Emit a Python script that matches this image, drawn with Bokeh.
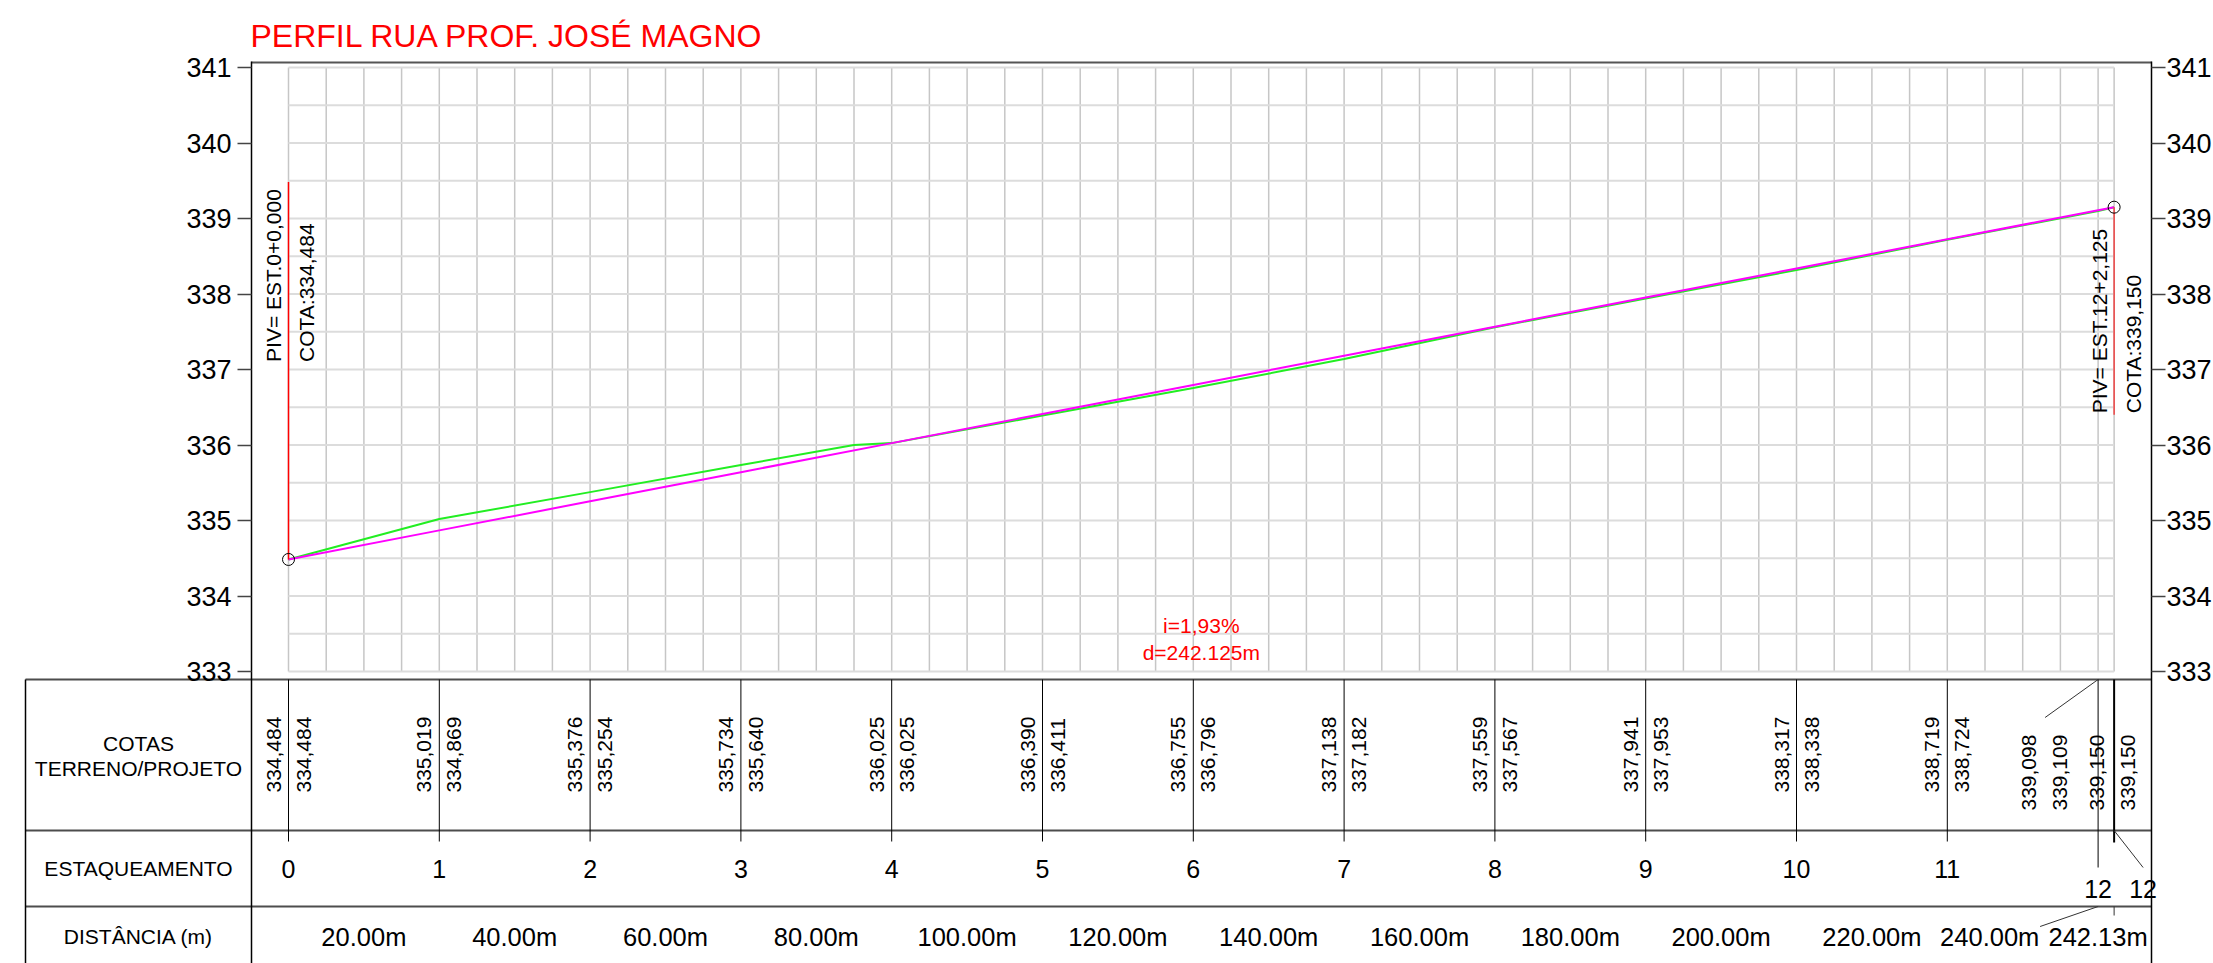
import numpy as np
from bokeh.plotting import figure
from bokeh.models import Range1d, LinearAxis, FixedTicker
from bokeh.embed import file_html
from bokeh.resources import INLINE
from bokeh.core.properties import value

# ---------------- data ----------------
TITLE = "PERFIL RUA PROF. JOSÉ MAGNO"
estacas = ["0", "1", "2", "3", "4", "5", "6", "7", "8", "9", "10", "11", "12", "12"]
dist_m = [0, 20, 40, 60, 80, 100, 120, 140, 160, 180, 200, 220, 240, 242.125]
cota_terreno = [334.484, 335.019, 335.376, 335.734, 336.025, 336.390, 336.755,
                337.138, 337.559, 337.941, 338.317, 338.719, 339.098, 339.150]
cota_projeto = [334.484, 334.869, 335.254, 335.640, 336.025, 336.411, 336.796,
                337.182, 337.567, 337.953, 338.338, 338.724, 339.109, 339.150]
# terrain profile as drawn (includes one intermediate surveyed point)
perfil_terreno_dist = [0, 20, 40, 60, 75, 80, 100, 120, 140, 160, 180, 200, 220, 240, 242.125]
perfil_terreno_cota = [334.484, 335.019, 335.376, 335.734, 336.000, 336.025, 336.390, 336.755,
                       337.138, 337.559, 337.941, 338.317, 338.719, 339.098, 339.150]
dist_labels = ["20.00m", "40.00m", "60.00m", "80.00m", "100.00m", "120.00m", "140.00m",
               "160.00m", "180.00m", "200.00m", "220.00m", "240.00m", "242.13m"]
y_ticks = [333, 334, 335, 336, 337, 338, 339, 340, 341]
piv_dist = [0, 242.125]
piv_cota = [334.484, 339.150]
piv_labels = ["PIV= EST.0+0,000", "PIV= EST.12+2,125"]
piv_cota_labels = ["COTA:334,484", "COTA:339,150"]
slope_labels = ["i=1,93%", "d=242.125m"]
row_titles = ["COTAS", "TERRENO/PROJETO", "ESTAQUEAMENTO", "DISTÂNCIA (m)"]

FONT = "Liberation Sans"
W, H = 2213, 963
TL = 25                         # table left edge (canvas px)
PL, PR, PT = 251, 2151, 61      # profile box: left axis, right axis, top line
X0 = 288                        # canvas x of distance 0
PXM = 7.54                      # px per metre, horizontal
Y341 = 67                       # canvas y of elevation 341
PYM = 75.5                      # px per metre, vertical
TABLE_TOP = 679


def xv(px):
    return (px - X0) / PXM


def yv(py):
    return y_ticks[-1] - (py - Y341) / PYM


def ty(off):
    return yv(TABLE_TOP + off)


def fmt(v):
    return f"{v:.3f}".replace(".", ",")


# the frame covers the whole canvas; the axes are pinned with fixed_location
p = figure(width=W, height=H,
           x_range=Range1d(xv(0), xv(W)),
           y_range=Range1d(yv(H), yv(0)),
           output_backend="svg", toolbar_location=None,
           x_axis_location=None, y_axis_location="left",
           min_border_left=0, min_border_right=0,
           min_border_top=0, min_border_bottom=0)
p.xgrid.visible = False
p.ygrid.visible = False
p.outline_line_color = None
p.background_fill_color = "white"
p.border_fill_color = "white"


def style_axis(ax, standoff, loc):
    ax.ticker = FixedTicker(ticks=y_ticks)
    ax.fixed_location = loc
    ax.bounds = (yv(H), yv(PT))
    ax.major_tick_out = 14
    ax.major_tick_in = 0
    ax.minor_tick_out = 0
    ax.minor_tick_in = 0
    ax.major_label_standoff = standoff
    ax.major_label_text_font = FONT
    ax.major_label_text_font_size = "27px"
    ax.major_label_text_color = "black"
    ax.axis_line_color = "black"
    ax.axis_line_width = 1.5
    ax.major_tick_line_color = "#444444"
    ax.major_tick_line_width = 1.5


style_axis(p.yaxis[0], 6, xv(PL))
ax_r = LinearAxis()
style_axis(ax_r, 1, xv(PR))
p.add_layout(ax_r, "right")

# title
p.text(x=[xv(250)], y=[yv(35.5)], text=[TITLE], text_align="left", text_baseline="middle",
       text_font=value(FONT), text_font_size="32px", text_color="red")

# top line of the profile box
p.segment(x0=xv(PL), y0=yv(PT + 1), x1=xv(PR), y1=yv(PT + 1), line_color="#555555", line_width=2)

# drawing grid (5 m x 0.5 m)
gx = list(np.arange(0, 241, 5)) + [dist_m[-1]]
p.segment(x0=gx, y0=y_ticks[0], x1=gx, y1=y_ticks[-1], line_color="#c6c6c6", line_width=1.5)
gy = list(np.arange(y_ticks[0], y_ticks[-1] + 0.01, 0.5))
p.segment(x0=0, y0=gy, x1=dist_m[-1], y1=gy, line_color="#dcdcdc", line_width=2)

# profiles
p.line(perfil_terreno_dist, perfil_terreno_cota, line_color="#22ee22", line_width=2)
p.line(dist_m, cota_projeto, line_color="#ff00ff", line_width=2)

# PIV markers
p.segment(x0=piv_dist, y0=piv_cota, x1=piv_dist,
          y1=[piv_cota[0] + 5.0, piv_cota[1] - 2.75], line_color=["#ff0000", "#ee4444"], line_width=1.5)
p.scatter(piv_dist, piv_cota, marker="circle", size=12, fill_color=None,
          line_color="black", line_width=1)
piv_text_y = [337.10, 336.42]
p.text(x=[piv_dist[0] - 15 / PXM, piv_dist[1] - 15 / PXM], y=piv_text_y, text=piv_labels,
       angle=np.pi / 2, text_align="left", text_baseline="middle",
       text_font=value(FONT), text_font_size="21px", text_color="black")
p.text(x=[piv_dist[0] + 18 / PXM, piv_dist[1] + 19 / PXM], y=piv_text_y, text=piv_cota_labels,
       angle=np.pi / 2, text_align="left", text_baseline="middle",
       text_font=value(FONT), text_font_size="21px", text_color="black")

# slope annotation
mid = dist_m[-1] / 2
p.text(x=[mid, mid], y=[333.61, 333.25], text=slope_labels,
       text_align="center", text_baseline="middle",
       text_font=value(FONT), text_font_size="21px", text_color="red")

# ---------------- table (below the profile) ----------------
row_lines = [0, 151, 227]
p.segment(x0=xv(TL), y0=[ty(o) for o in row_lines], x1=xv(PR), y1=[ty(o) for o in row_lines],
          line_color="#4d4d4d", line_width=2)
p.segment(x0=xv(TL), y0=ty(0), x1=xv(TL), y1=yv(H), line_color="black", line_width=1.5)
p.text(x=[xv(138)] * 4, y=[ty(64), ty(89), ty(189), ty(257)], text=row_titles,
       text_align="center", text_baseline="middle",
       text_font=value(FONT), text_font_size="21px", text_color="black")

# station ticks
p.segment(x0=dist_m[:12], y0=ty(0), x1=dist_m[:12], y1=ty(162), line_color="black", line_width=1)
p.segment(x0=dist_m[12], y0=ty(0), x1=dist_m[12], y1=ty(188), line_color="black", line_width=1)
p.segment(x0=dist_m[13], y0=ty(0), x1=dist_m[13], y1=ty(163), line_color="black", line_width=2)
# leaders
p.segment(x0=[dist_m[12], dist_m[13], dist_m[12], dist_m[13]],
          y0=[ty(0), ty(151), ty(227), ty(227)],
          x1=[dist_m[12] - 53 / PXM, dist_m[13] + 29 / PXM, dist_m[12] - 58 / PXM, dist_m[13]],
          y1=[ty(38), ty(188), ty(247), ty(236)],
          line_color="#333333", line_width=1)

# cotas (rotated)
terr_x = [d - 15 / PXM for d in dist_m]
proj_x = [d + 15 / PXM for d in dist_m]
terr_x[12] = dist_m[12] - 69 / PXM
proj_x[12] = dist_m[12] - 38 / PXM
terr_x[13] = dist_m[13] - 17 / PXM
proj_x[13] = dist_m[13] + 14 / PXM
cy = [ty(113)] * 12 + [ty(131), ty(131)]
p.text(x=terr_x, y=cy, text=[fmt(v) for v in cota_terreno],
       angle=np.pi / 2, text_align="left", text_baseline="middle",
       text_font=value(FONT), text_font_size="21px", text_color="black")
p.text(x=proj_x, y=cy, text=[fmt(v) for v in cota_projeto],
       angle=np.pi / 2, text_align="left", text_baseline="middle",
       text_font=value(FONT), text_font_size="21px", text_color="black")

# estaqueamento
ex = list(dist_m[:13]) + [dist_m[13] + 29 / PXM]
ey = [ty(189)] * 12 + [ty(209), ty(209)]
p.text(x=ex, y=ey, text=estacas, text_align="center", text_baseline="middle",
       text_font=value(FONT), text_font_size="25px", text_color="black")

# distancias
dx = [(dist_m[i] + dist_m[i + 1]) / 2 for i in range(len(dist_m) - 1)]
dx[11] -= 33 / PXM
dx[12] -= 8 / PXM
p.text(x=dx, y=[ty(257)] * len(dx), text=dist_labels, text_align="center", text_baseline="middle",
       text_font=value(FONT), text_font_size="25.5px", text_color="black")

open("out.html", "w").write(file_html(p, INLINE))
